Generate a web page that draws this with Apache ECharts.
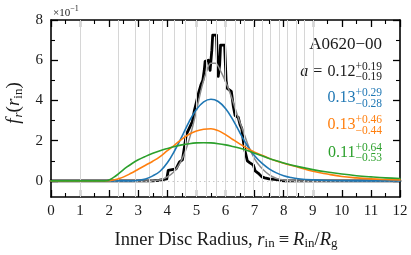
<!DOCTYPE html>
<html><head><meta charset="utf-8">
<script src="https://cdn.jsdelivr.net/npm/echarts@6/dist/echarts.min.js"></script>
<style>html,body{margin:0;padding:0;background:#fff}#c{width:411px;height:255px}</style>
</head><body><div id="c"></div>
<script>
// ---- data ----
const xTicks = [0,1,2,3,4,5,6,7,8,9,10,11,12];
const yMajorTicks = [0,2,4,6,8];
const yMinorTicks = [1,3,5,7];
// ISCO radii for spins a = 1, 0.9, ..., -1
const iscoRadii = [1.0,2.32,2.91,3.39,3.83,4.23,4.61,4.98,5.33,5.67,6.0,6.32,6.64,6.95,7.25,7.55,7.85,8.14,8.43,8.72,9.0];
const blackHist = [[0,0],[3.5,0],[3.7,0.03],[3.98,0.1],[4.03,0.52],[4.3,0.6],[4.36,0.62],[4.42,0.95],[4.52,1.05],[4.58,1.6],[4.65,2.3],[4.78,2.7],[4.86,2.95],[4.93,3.5],[5.0,3.9],[5.08,4.4],[5.15,4.75],[5.22,5.0],[5.27,5.5],[5.3,5.95],[5.41,6.0],[5.47,5.5],[5.53,6.5],[5.56,7.25],[5.69,7.25],[5.72,6.0],[5.75,5.2],[5.8,5.8],[5.83,6.75],[5.97,6.75],[6.02,5.0],[6.06,4.6],[6.2,4.45],[6.27,3.7],[6.33,3.25],[6.44,3.15],[6.5,2.8],[6.56,2.6],[6.62,1.9],[6.67,1.5],[6.75,1.0],[6.84,0.9],[6.96,0.78],[7.02,0.5],[7.13,0.38],[7.25,0.2],[7.35,0.15],[7.5,0.1],[7.76,0.07],[7.9,0.02],[8.05,0],[12,0]];
const grayCurve = [[0,0],[3.4,0],[3.6,0.02],[3.8,0.07],[4.0,0.2],[4.2,0.42],[4.4,0.8],[4.6,1.4],[4.8,2.3],[5.0,3.5],[5.2,4.75],[5.35,5.45],[5.5,5.85],[5.65,5.85],[5.8,5.55],[6.0,4.95],[6.2,4.2],[6.4,3.3],[6.6,2.5],[6.8,1.7],[7.0,1.1],[7.2,0.7],[7.4,0.42],[7.6,0.22],[7.8,0.1],[8.0,0.05],[8.3,0.01],[8.6,0],[12,0]];
const blueCurve = [[0,0],[2.8,0],[3.0,0.03],[3.25,0.1],[3.5,0.25],[3.75,0.48],[4.0,0.9],[4.25,1.5],[4.5,2.2],[4.75,2.95],[5.0,3.55],[5.25,3.93],[5.5,4.06],[5.75,3.95],[6.0,3.6],[6.25,3.05],[6.5,2.38],[6.75,1.75],[7.0,1.25],[7.25,0.88],[7.5,0.6],[7.75,0.4],[8.0,0.26],[8.25,0.17],[8.5,0.11],[9.0,0.05],[9.5,0.02],[10,0.01],[11,0],[12,0]];
const orangeCurve = [[0,0],[1.9,0],[2.1,0.03],[2.3,0.1],[2.5,0.2],[2.75,0.38],[3.0,0.58],[3.25,0.78],[3.5,0.98],[3.75,1.21],[4.0,1.5],[4.25,1.78],[4.5,2.08],[4.75,2.32],[5.0,2.48],[5.25,2.57],[5.5,2.59],[5.75,2.5],[6.0,2.3],[6.25,2.06],[6.5,1.83],[6.75,1.62],[7.0,1.43],[7.25,1.28],[7.5,1.12],[7.75,0.99],[8.0,0.88],[8.5,0.68],[9.0,0.48],[9.5,0.34],[10,0.22],[10.5,0.15],[11,0.1],[11.5,0.07],[12,0.05]];
const greenCurve = [[0,0],[1.85,0],[2.0,0.05],[2.2,0.22],[2.4,0.45],[2.6,0.68],[2.8,0.88],[3.0,1.05],[3.25,1.22],[3.5,1.37],[3.75,1.5],[4.0,1.61],[4.25,1.71],[4.5,1.79],[4.75,1.85],[5.0,1.89],[5.25,1.9],[5.5,1.89],[5.75,1.85],[6.0,1.79],[6.25,1.71],[6.5,1.62],[6.75,1.51],[7.0,1.38],[7.25,1.25],[7.5,1.12],[7.75,1.0],[8.0,0.89],[8.5,0.71],[9.0,0.56],[9.5,0.44],[10,0.34],[10.5,0.26],[11,0.2],[11.5,0.15],[12,0.12]];
const spinLabels = [
  {main:'0.13', sup:'+0.29', sub:'\u22120.28', color:'#1f77b4'},
  {main:'0.13', sup:'+0.46', sub:'\u22120.44', color:'#ff7f0e'},
  {main:'0.11', sup:'+0.64', sub:'\u22120.53', color:'#2ca02c'}
];

// ---- layout helpers ----
const FAM = "'Liberation Serif', serif";
const mctx = document.createElement('canvas').getContext('2d');
function fontStr(size, italic){ return (italic?'italic ':'') + size + 'px ' + FAM; }
function tw(t, size, italic){ mctx.font = fontStr(size, italic); return mctx.measureText(t).width; }
// pieces: {t,size,italic,dy} | {sup,sub,size,dySup,dySub} | {gap}
function pieceW(p){
  if (p.gap!==undefined) return p.gap;
  return p.t!==undefined ? tw(p.t,p.size,p.italic) : Math.max(tw(p.sup,p.size), tw(p.sub,p.size));
}
function run(pieces, x, y, align, color){
  const total = pieces.reduce((s,p)=>s+pieceW(p),0);
  let cx = align==='right' ? x-total : (align==='center' ? x-total/2 : x);
  const out = [];
  const mk = (t,size,italic,px,py)=>({type:'text', x:px, y:py, silent:true,
     style:{text:t, font:fontStr(size,italic), fill:color, textVerticalAlign:'middle', verticalAlign:'middle', textAlign:'left', align:'left'}});
  pieces.forEach(p=>{
    if (p.gap!==undefined) {}
    else if (p.t!==undefined){ out.push(mk(p.t,p.size,p.italic,cx,y+(p.dy||0))); }
    else { out.push(mk(p.sup,p.size,false,cx,y+p.dySup)); out.push(mk(p.sub,p.size,false,cx,y+p.dySub)); }
    cx += pieceW(p);
  });
  return out;
}

const TXT = '#1a1a1a';
let graphics = [];
graphics = graphics.concat(run([{t:'A0620\u221200',size:17}], 382, 44.5, 'right', TXT));
graphics = graphics.concat(run([{t:'a',size:16,italic:true},{gap:5},{t:'=',size:16},{gap:5},{t:'0.12',size:16},{sup:'+0.19',sub:'\u22120.19',size:11.5,dySup:-5.5,dySub:4.8}], 382, 72, 'right', TXT));
const rowY = [97.8, 124.8, 152.3];
spinLabels.forEach((s,i)=>{
  graphics = graphics.concat(run([{t:s.main,size:16},{sup:s.sup,sub:s.sub,size:11.5,dySup:-4.8,dySub:5.8}], 382, rowY[i], 'right', s.color));
});
// x10^-1
graphics = graphics.concat(run([{t:'\u00d710',size:11},{t:'\u22121',size:8,dy:-4.5}], 53, 13, 'left', TXT));
// x title
graphics = graphics.concat(run([
  {t:'Inner Disc Radius, ',size:18.5},{t:'r',size:18.5,italic:true},{t:'in',size:13,dy:4},
  {gap:4},{t:'\u2261',size:18.5},{gap:4},{t:'R',size:18.5,italic:true},{t:'in',size:13,dy:4},{t:'/',size:18.5},
  {t:'R',size:18.5,italic:true},{t:'g',size:13,dy:4}], 226, 240, 'center', TXT));
// y title (rotated)
graphics.push({type:'group', x:14, y:103, rotation:Math.PI/2, children: run([
  {t:'f',size:19,italic:true},{gap:1},{t:'r',size:13,italic:true,dy:4.5},{t:'(',size:19},{t:'r',size:19,italic:true},
  {t:'in',size:13,dy:4.5},{t:')',size:19}], 0, 0, 'center', TXT)});

// ---- chart ----
const chart = echarts.init(document.getElementById('c'), null, {renderer:'canvas'});
const axisLineStyle = {color:'#000', width:1.6};
function xAx(pos, labels){
  return {type:'value', min:0, max:12, interval:1, position:pos,
    axisLine:{show:true, onZero:false, lineStyle:axisLineStyle},
    axisTick:{show:true, inside:true, length:7, lineStyle:{color:'#000', width:1.3}},
    minorTick:{show:true, splitNumber:2, length:4, lineStyle:{color:'#000', width:1.1}},
    axisLabel:{show:labels, margin:7, fontFamily:FAM, fontSize:15, color:TXT,
      formatter:(v)=> xTicks.includes(v) ? String(v) : ''},
    splitLine:{show:false}, minorSplitLine:{show:false}};
}
function yAx(pos, major, labels){
  return {type:'value', min:-0.8, max:8, position:pos,
    axisLine:{show:major, onZero:false, lineStyle:axisLineStyle},
    axisTick:{show:true, inside:true, length: major?7:4, customValues: major?yMajorTicks:yMinorTicks,
      lineStyle:{color:'#000', width: major?1.3:1.1}},
    axisLabel:{show:labels, margin:8, fontFamily:FAM, fontSize:15, color:TXT, customValues:yMajorTicks},
    splitLine:{show:false}};
}
function lineSeries(data, color, width, smooth, z){
  return {type:'line', data:data, xAxisIndex:0, yAxisIndex:0, showSymbol:false, symbol:'none',
    smooth:smooth, z:z,
    lineStyle:{color:color, width:width, join:'round', cap:'round'}, silent:true, animation:false};
}
const option = {
  animation:false,
  grid:{left:51, right:11, top:20, bottom:58, containLabel:false},
  xAxis:[xAx('bottom', true), xAx('top', false)],
  yAxis:[yAx('left', true, true), yAx('left', false, false), yAx('right', true, false), yAx('right', false, false)],
  series:[
    {type:'line', data:[], xAxisIndex:0, yAxisIndex:0, z:1, silent:true,
      markLine:{silent:true, symbol:['none','none'], label:{show:false}, animation:false,
        lineStyle:{color:'#d6d6d6', width:1, type:'solid'},
        data: iscoRadii.map(r=>({xAxis:r}))}},
    lineSeries(blackHist, '#000', 2.8, false, 3),
    lineSeries(grayCurve, '#8a8a8a', 1.5, 0.4, 4),
    lineSeries(blueCurve, '#1f77b4', 1.6, 0.4, 5),
    lineSeries(orangeCurve, '#ff7f0e', 1.6, 0.4, 6),
    lineSeries(greenCurve, '#2ca02c', 1.6, 0.4, 7),
    {type:'line', data:[], xAxisIndex:0, yAxisIndex:0, z:9, silent:true,
      markLine:{silent:true, symbol:['none','none'], label:{show:false}, animation:false,
        lineStyle:{color:'#c8c8c8', width:1, type:[1.5,3]},
        data:[{yAxis:0}]}}
  ],
  graphic: graphics
};
chart.setOption(option);
</script></body></html>
